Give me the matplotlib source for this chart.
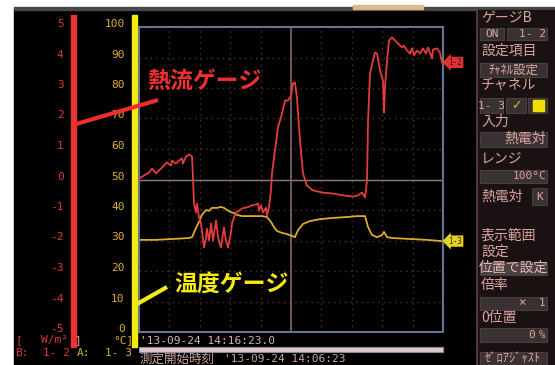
import matplotlib
matplotlib.use("Agg")
import matplotlib.pyplot as plt
from matplotlib.patches import Rectangle

plt.rcParams['axes.unicode_minus'] = False

W, H = 555, 365
CJK = ['Noto Sans CJK JP', 'DejaVu Sans']
MONO = 'DejaVu Sans Mono'

# time in minutes from start of the recording
flux_t = [0.00, 0.33, 0.66, 0.86, 1.12, 1.45, 1.64, 1.84, 2.11, 2.17,
          2.43, 2.63, 2.83, 2.89, 3.09, 3.29, 3.49, 3.55, 3.62, 3.75,
          3.82, 3.95, 4.08, 4.28, 4.41, 4.47, 4.61, 4.74, 4.87, 5.00,
          5.07, 5.20, 5.39, 5.46, 5.59, 5.72, 5.86, 6.05, 6.12, 6.25,
          6.38, 6.58, 6.78, 7.04, 7.24, 7.43, 7.70, 7.83, 7.89, 8.03,
          8.16, 8.36, 8.42, 8.55, 8.68, 8.75, 8.88, 9.01, 9.14, 9.41,
          9.61, 9.80, 10.00, 10.13, 10.26, 10.39, 10.59, 10.79, 11.05, 11.45,
          12.11, 12.76, 13.42, 14.08, 14.41, 14.67, 14.87, 15.00, 15.07, 15.20,
          15.39, 15.53, 15.66, 15.86, 16.05, 16.12, 16.18, 16.32, 16.45, 16.64,
          16.84, 17.04, 17.30, 17.43, 17.63, 17.83, 17.96, 18.09, 18.29, 18.49,
          18.68, 18.88, 19.01, 19.28, 19.34, 19.61, 19.80, 19.93]
# heat flux gauge B, ch 1-2 (W/m2)
flux_v = [0.03, 0.13, 0.23, 0.36, 0.20, 0.36, 0.46, 0.56, 0.46, 0.62,
          0.52, 0.62, 0.69, 0.52, 0.75, 0.82, 0.75, 0.07, -0.79, -1.08,
          -0.79, -1.25, -1.44, -2.23, -1.90, -1.61, -2.00, -1.44, -2.00, -1.57,
          -1.34, -1.90, -2.23, -2.00, -1.57, -2.00, -2.23, -1.74, -1.44, -1.25,
          -1.08, -1.02, -0.95, -0.92, -0.89, -0.85, -0.82, -0.79, -1.02, -0.85,
          -1.08, -0.92, -1.18, -0.92, -0.36, 0.20, 0.72, 1.18, 1.70, 2.16,
          2.59, 2.59, 2.75, 3.15, 3.18, 2.69, 1.28, 0.20, -0.20, -0.36,
          -0.43, -0.46, -0.52, -0.56, -0.52, -0.43, -0.59, -0.03, 1.93, 3.48,
          3.90, 4.16, 4.13, 3.57, 3.25, 2.20, 3.02, 3.90, 4.56, 4.66,
          4.56, 4.46, 4.33, 4.39, 4.23, 4.13, 4.30, 4.07, 4.23, 4.13,
          4.30, 4.13, 4.33, 3.97, 4.26, 4.30, 4.16, 3.84]

temp_t = [0.00, 1.12, 2.17, 3.29, 3.49, 3.75, 3.95, 4.14, 4.41, 4.61,
          4.80, 5.13, 5.39, 5.59, 5.79, 6.05, 6.25, 6.45, 6.78, 7.24,
          7.70, 8.09, 8.42, 8.68, 8.88, 9.08, 9.41, 9.74, 10.07, 10.26,
          10.46, 10.79, 11.25, 11.91, 12.76, 13.68, 14.34, 14.87, 15.07, 15.33,
          15.66, 15.99, 16.12, 16.32, 16.71, 17.83, 18.95, 19.93]
# temperature gauge A, ch 1-3 (degC)
temp_v = [30.2, 30.2, 30.5, 30.8, 31.1, 34.1, 36.1, 38.4, 40.0, 39.7,
          40.7, 40.7, 41.0, 40.7, 40.0, 39.3, 39.0, 38.4, 38.0, 38.0,
          38.0, 38.0, 37.7, 36.1, 34.4, 33.1, 32.5, 32.1, 31.5, 31.1,
          33.4, 35.4, 36.4, 37.0, 37.4, 37.7, 38.0, 38.0, 34.4, 31.8,
          31.1, 31.8, 32.8, 31.1, 30.8, 30.5, 30.2, 29.8]

flux_ticks = list(range(-5, 6))
temp_ticks = list(range(0, 101, 10))

RED = '#ea3434'
YEL = '#f4ec10'
RED_TXT = '#dc3a34'
YEL_TXT = '#dcae34'
PANEL_TXT = '#dca4a0'


def box(l, t, r, b):
    return [l / W, 1 - b / H, (r - l) / W, (b - t) / H]


fig = plt.figure(figsize=(W / 100, H / 100), dpi=100, facecolor='white')

# screen background, bars and side panel
scr = fig.add_axes([0, 0, 1, 1], zorder=0)
scr.set_xlim(0, W)
scr.set_ylim(H, 0)
scr.axis('off')
scr.add_patch(Rectangle((14, 9), W - 14, H - 9, color='black'))
scr.add_patch(Rectangle((14, 7), W - 14, 3, color='#4c484a'))
scr.add_patch(Rectangle((353, 5), 70, 4, color='#dcb88c'))
scr.add_patch(Rectangle((71, 15), 5, 332, color=RED))
scr.add_patch(Rectangle((132, 15), 5, 332, color=YEL))

scr.add_patch(Rectangle((477, 10), W - 477, H - 10, color='#1a1212'))
scr.plot([477, 477], [10, H], color='#5c4240', lw=1.2)


def pbox(l, t, r, b, fc='#3a3232'):
    scr.add_patch(Rectangle((l, t), r - l, b - t, fc=fc, ec='#4a3e3e', lw=0.8))


def ptxt(x, y, s, ha='left', size=10, color=PANEL_TXT, family=CJK):
    scr.text(x, y, s, ha=ha, va='center', fontsize=size, color=color, family=family)


ptxt(481, 18, 'ゲージB')
pbox(480, 28, 504, 40)
ptxt(492, 34, 'ON', ha='center', size=8, family=MONO)
pbox(507, 28, 547, 40)
ptxt(546, 34, '1- 2', ha='right', size=8, family=MONO)
ptxt(481, 51, '設定項目')
pbox(480, 63, 547, 77)
ptxt(513, 70, 'ﾁｬﾈﾙ設定', ha='center', size=9)
ptxt(481, 85, 'チャネル')
pbox(480, 98, 503, 113)
ptxt(491, 106, '1- 3', ha='center', size=8, family=MONO)
pbox(506, 98, 526, 113)
ptxt(516, 106, '✓', ha='center', size=9, color='#e0b020', family=['DejaVu Sans'])
pbox(528, 98, 547, 113)
scr.add_patch(Rectangle((533, 100), 11, 11, color='#f0e000'))
ptxt(481, 122, '入力')
pbox(480, 132, 547, 147)
ptxt(546, 139, '熱電対', ha='right')
ptxt(481, 159, 'レンジ')
pbox(480, 170, 547, 183)
ptxt(546, 176, '100°C', ha='right', size=8, family=MONO)
ptxt(481, 197, '熱電対')
pbox(532, 188, 547, 205)
ptxt(540, 197, 'K', ha='center', size=8, family=MONO)
ptxt(481, 236, '表示範囲')
ptxt(481, 252, '設定')
pbox(480, 262, 547, 275, fc='#4a4242')
ptxt(513, 268, '位置で設定', ha='center', color='#e8b8b4')
ptxt(481, 285, '倍率')
pbox(480, 297, 547, 310)
ptxt(522, 303, '×', ha='center', size=9, family=MONO)
ptxt(545, 303, '1', ha='right', size=8, family=MONO)
ptxt(481, 318, '0位置')
pbox(480, 328, 547, 342)
ptxt(535, 335, '0', ha='right', size=8, family=MONO)
ptxt(546, 335, '%', ha='right', size=8, family=MONO)
pbox(480, 352, 547, 366)
ptxt(513, 359, 'ｾﾞﾛｱｼﾞｬｽﾄ', ha='center', size=9)

# units and channel assignment under the scales
ptxt(15, 340, '[', size=8, color=RED_TXT, family=MONO)
ptxt(41, 340, 'W/m²', size=8, color=RED_TXT, family=MONO)
ptxt(74, 340, ']', size=8, color='#e8a0a0', family=MONO)
ptxt(134, 340, '°C]', ha='right', size=8, color=YEL_TXT, family=MONO)
ptxt(15, 353, 'B:', size=8, color=RED_TXT, family=MONO)
ptxt(43, 353, '1- 2', size=8, color=RED_TXT, family=MONO)
ptxt(77, 353, 'A:', size=8, color=YEL_TXT, family=MONO)
ptxt(105, 353, '1- 3', size=8, color=YEL_TXT, family=MONO)

# cursor time and start time under the graph
ptxt(140, 341, "'13-09-24 14:16:23.0", size=8, color='#d4b4b0', family=MONO)
scr.add_patch(Rectangle((139, 347), 304, 5, fc='#dccaca', ec='#8a8aa4', lw=0.8))
ptxt(140, 359, '測定開始時刻', size=9, color='#c8a4a0')
ptxt(224, 359, "'13-09-24 14:06:23", size=8, color='#c8a4a0', family=MONO)

# scale labels on the left
axr = fig.add_axes(box(65, 23, 66, 328), zorder=1)
axr.set_ylim(-5, 5)
axr.set_yticks(flux_ticks)
axr.set_xticks([])
axr.tick_params(axis='y', length=0, pad=1, labelsize=8, labelcolor=RED_TXT,
                labelfontfamily=MONO)
axr.patch.set_visible(False)
for s in axr.spines.values():
    s.set_visible(False)

axy = fig.add_axes(box(126, 23, 127, 328), zorder=1)
axy.set_ylim(0, 100)
axy.set_yticks(temp_ticks)
axy.set_xticks([])
axy.tick_params(axis='y', length=0, pad=1, labelsize=8, labelcolor=YEL_TXT,
                labelfontfamily=MONO)
axy.patch.set_visible(False)
for s in axy.spines.values():
    s.set_visible(False)

# graph
ax = fig.add_axes(box(139, 27, 443, 332), zorder=2)
ax.set_facecolor('black')
ax.set_xlim(0, 20)
ax.set_ylim(0, 100)
ax.set_xticks(range(0, 21, 2))
ax.set_yticks(temp_ticks)
ax.tick_params(length=0, labelbottom=False, labelleft=False)
ax.grid(True, color='#5a3028', linestyle=(0, (1, 3)), linewidth=1)
ax.axhline(50, color='#8c7c7c', lw=1)
ax.axvline(10, color='#7c6862', lw=1.2)
for s in ax.spines.values():
    s.set_color('#6a7294')
    s.set_linewidth(1.5)
ax.plot(temp_t, temp_v, color='#dcaa2c', lw=1.3)
ax.text(20.35, temp_v[-1], '1-3', ha='left', va='center', fontsize=5.5,
        color='#302800', family=MONO, clip_on=False,
        bbox=dict(boxstyle='larrow,pad=0.15', fc='#e8d020', ec='none'))

ax2 = ax.twinx()
ax2.set_ylim(-5, 5)
ax2.axis('off')
ax2.plot(flux_t, flux_v, color='#e43c3c', lw=1.3)
ax2.text(20.35, flux_v[-1], '1-2', ha='left', va='center', fontsize=5.5,
         color='#401010', family=MONO, clip_on=False,
         bbox=dict(boxstyle='larrow,pad=0.15', fc='#e03434', ec='none'))

# gauge callouts
ov = fig.add_axes([0, 0, 1, 1], zorder=5)
ov.set_xlim(0, W)
ov.set_ylim(H, 0)
ov.axis('off')
ov.plot([76, 158], [124, 100], color='#f02c2c', lw=3, solid_capstyle='butt')
ov.plot([137, 167], [304, 287], color=YEL, lw=3, solid_capstyle='butt')
ov.text(204, 81, '熱流ゲージ', ha='center', va='center', fontsize=16.5,
        weight='bold', color='#f03030', family=CJK)
ov.text(232, 284, '温度ゲージ', ha='center', va='center', fontsize=16.5,
        weight='bold', color=YEL, family=CJK)

fig.savefig('out.png', dpi=100, facecolor='white')
